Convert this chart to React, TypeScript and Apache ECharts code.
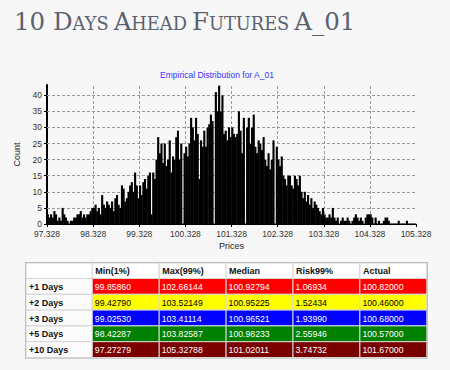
import React, { useEffect, useRef } from "react";
import * as echarts from "echarts";

// Histogram: counts per bin, 28 bins per price unit, starting at 97.328
const binStart = 97.328;
const binsPerUnit = 28;
const counts97 = [3,2,3,2,4,3,1,2,1,5,3,2,1,0,1,1,2,2,3,3,4,2,3,2,3,3,4,5];
const counts98 = [5,6,4,5,3,9,6,5,7,6,5,7,4,8,9,6,5,12,11,7,8,10,12,13,10,16,12,8];
const counts99 = [12,9,13,14,11,15,16,3,16,14,20,27,22,25,19,25,18,20,26,16,21,20,27,29,20,25,0,22];
const counts100 = [24,21,25,33,30,26,33,28,14,26,24,29,24,30,31,34,32,0,41,35,43,35,40,28,29,26,30,27];
const counts101 = [30,28,27,28,35,29,22,33,0,30,33,25,30,34,24,22,26,25,23,27,20,18,22,17,20,26,0,24];
const counts102 = [20,18,21,15,14,12,15,15,12,11,15,14,12,15,10,8,10,7,9,6,8,5,7,6,5,4,3,5];
const counts103 = [3,2,2,3,2,5,2,1,2,0,1,2,1,1,2,1,0,1,2,3,2,1,2,1,0,2,3,3];
const counts104 = [3,2,0,2,0,1,0,0,1,2,2,1,0,0,0,0,0,1,0,0,0,0,1,0,0,0,0,0];

const xTicks = [97.328, 98.328, 99.328, 100.328, 101.328, 102.328, 103.328, 104.328, 105.328];
const yTicks = [5, 10, 15, 20, 25, 30, 35, 40];

const tableHeaders = ["Min(1%)", "Max(99%)", "Median", "Risk99%", "Actual"];
const rowLabels = ["+1 Days", "+2 Days", "+3 Days", "+5 Days", "+10 Days"];
const minValues = ["99.85860", "99.42790", "99.02530", "98.42287", "97.27279"];
const maxValues = ["102.66144", "103.52149", "103.41114", "103.82587", "105.32788"];
const medianValues = ["100.92794", "100.95225", "100.96521", "100.98233", "101.02011"];
const riskValues = ["1.06934", "1.52434", "1.93990", "2.55946", "3.74732"];
const actualValues = ["100.82000", "100.46000", "100.68000", "100.57000", "101.67000"];
const rowColors = ["#ff0000", "#ffff00", "#0000ff", "#008000", "#7a0000"];
const rowTextColors = ["#ffffff", "#000000", "#ffffff", "#ffffff", "#ffffff"];

export default function App() {
  const ref = useRef<HTMLDivElement>(null);
  useEffect(() => {
    if (!ref.current) return;
    const chart = echarts.init(ref.current, null, { renderer: "svg" });
    const counts = [
      ...counts97, ...counts98, ...counts99, ...counts100,
      ...counts101, ...counts102, ...counts103, ...counts104,
    ];
    const barData = counts.map((c, i) => [binStart + (i + 0.5) / binsPerUnit, c]);
    const nearestTick = (v: number) =>
      xTicks.reduce((a, b) => (Math.abs(b - v) < Math.abs(a - v) ? b : a), xTicks[0]);

    const columns = [minValues, maxValues, medianValues, riskValues, actualValues];
    const tLeft = 26;
    const tTop = 263;
    const firstW = 66.3;
    const colW = 66.9;
    const headH = 15.5;
    const rowH = 15.8;
    const tW = firstW + colW * columns.length;
    const tH = headH + rowH * rowLabels.length;
    const sans = "Liberation Sans";
    const serif = "DejaVu Serif";
    const els: any[] = [];
    els.push({
      type: "rect",
      shape: { x: tLeft, y: tTop, width: tW, height: tH },
      style: { fill: "#ffffff", stroke: "#a8a8a8", lineWidth: 2 },
    });
    els.push({
      type: "rect",
      shape: { x: tLeft, y: tTop, width: firstW, height: headH },
      style: { fill: "#ffffff", stroke: "#d4d4d4", lineWidth: 1 },
    });
    tableHeaders.forEach((h, c) => {
      const x = tLeft + firstW + c * colW;
      els.push({
        type: "rect",
        shape: { x, y: tTop, width: colW, height: headH },
        style: { fill: "#ffffff", stroke: "#d4d4d4", lineWidth: 1 },
      });
      els.push({
        type: "text",
        x: x + 3,
        y: tTop + headH / 2 + 0.5,
        style: { text: h, fill: "#111", font: `bold 9px '${sans}'`, align: "left", verticalAlign: "middle" },
      });
    });
    rowLabels.forEach((lab, r) => {
      const y = tTop + headH + r * rowH;
      els.push({
        type: "rect",
        shape: { x: tLeft, y, width: firstW, height: rowH },
        style: { fill: "#fbfbfb", stroke: "#d4d4d4", lineWidth: 1 },
      });
      els.push({
        type: "text",
        x: tLeft + 3,
        y: y + rowH / 2 + 0.5,
        style: { text: lab, fill: "#111", font: `bold 9px '${sans}'`, align: "left", verticalAlign: "middle" },
      });
      columns.forEach((col, c) => {
        const x = tLeft + firstW + c * colW;
        els.push({
          type: "rect",
          shape: { x, y, width: colW, height: rowH },
          style: { fill: rowColors[r], stroke: "#d8d8d8", lineWidth: 1 },
        });
        els.push({
          type: "text",
          x: x + 2.5,
          y: y + rowH / 2 + 0.5,
          style: { text: col[r], fill: rowTextColors[r], font: `8.7px '${sans}'`, align: "left", verticalAlign: "middle" },
        });
      });
    });
    els.push({
      type: "text",
      x: 217,
      y: 75,
      style: {
        text: "Empirical Distribution for A_01",
        fill: "#3535ff",
        font: `8.5px '${sans}'`,
        align: "center",
        verticalAlign: "middle",
      },
    });

    chart.setOption({
      animation: false,
      backgroundColor: "#f7f7f7",
      title: {
        left: 9,
        top: 0,
        text: "{b|10 D}{s|AYS} {b|A}{s|HEAD} {b|F}{s|UTURES} {b|A_01}",
        textStyle: {
          fontWeight: "normal",
          rich: {
            b: { fontFamily: serif, fontWeight: "normal", fontSize: 24.5, color: "#5a6271", lineHeight: 29, verticalAlign: "bottom" },
            s: { fontFamily: serif, fontWeight: "normal", fontSize: 17.8, color: "#5a6271", lineHeight: 29, verticalAlign: "bottom", padding: [0, 0, 1.4, 0] },
          },
        },
      },
      grid: { left: 47, right: 34, top: 85, bottom: 146 },
      xAxis: {
        type: "value",
        min: 97.328,
        max: 105.328,
        interval: 1,
        name: "Prices",
        nameLocation: "middle",
        nameGap: 17,
        nameTextStyle: { fontFamily: sans, fontSize: 9, color: "#222" },
        axisLine: { lineStyle: { color: "#000", width: 1 } },
        axisTick: { show: true, length: 3, lineStyle: { color: "#000" } },
        axisLabel: {
          fontFamily: sans,
          fontSize: 8.5,
          color: "#333",
          margin: 5,
          formatter: (v: number) => nearestTick(v).toFixed(3),
        },
        splitLine: { show: false },
      },
      yAxis: {
        type: "value",
        min: 0,
        max: 43.2,
        interval: 5,
        name: "Count",
        nameLocation: "middle",
        nameRotate: 90,
        nameGap: 22,
        nameTextStyle: { fontFamily: sans, fontSize: 9, color: "#222" },
        axisLine: { show: true, lineStyle: { color: "#000", width: 2 } },
        axisTick: { show: true, length: 3, lineStyle: { color: "#000" } },
        axisLabel: {
          fontFamily: sans,
          fontSize: 8.5,
          color: "#333",
          margin: 5,
          showMaxLabel: false,
          formatter: (v: number) => (Math.abs(v % 5) < 1e-9 ? String(v) : ""),
        },
        splitLine: { show: false },
      },
      series: [
        {
          type: "bar",
          data: barData,
          barWidth: 2.1,
          itemStyle: { color: "#701010", borderColor: "#000", borderWidth: 1.2 },
          z: 3,
          markLine: {
            silent: true,
            z: 1,
            symbol: ["none", "none"],
            label: { show: false },
            lineStyle: { color: "#9a9a9a", type: [3, 2], width: 1 },
            emphasis: { disabled: true },
            data: [
              ...yTicks.map((v) => ({ yAxis: v })),
              ...xTicks.slice(1, -1).map((v) => ({ xAxis: v })),
            ],
          },
        },
      ],
      graphic: { elements: els },
    });
    return () => chart.dispose();
  }, []);
  return (
    <div
      ref={ref}
      style={{ position: "fixed", left: 0, top: 0, width: 450, height: 370, background: "#f7f7f7" }}
    />
  );
}
